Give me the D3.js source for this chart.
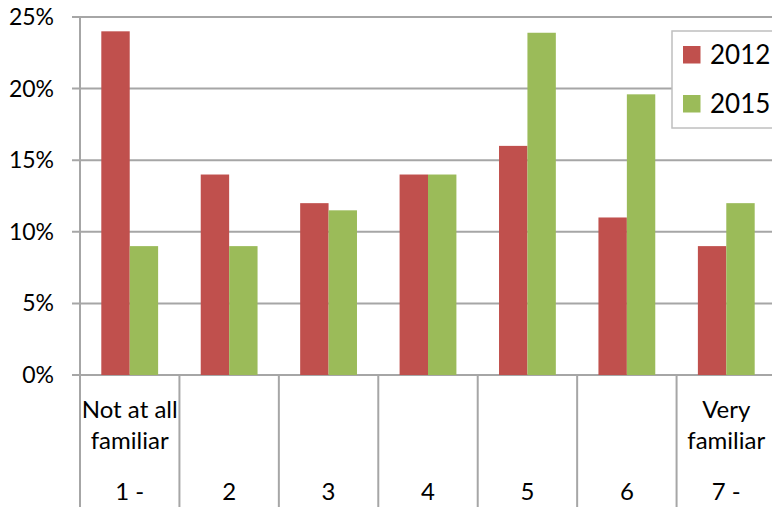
<!DOCTYPE html>
<html>
<head>
<meta charset="utf-8">
<script src="https://cdn.jsdelivr.net/npm/d3@7"></script>
<style>
  body { margin: 0; background: #fff; }
  svg { display: block; }
</style>
</head>
<body>
<div id="chart"></div>
<script>
// Data
var categories = ["1 -", "2", "3", "4", "5", "6", "7 -"];
var catNotes = [["Not at all", "familiar"], [], [], [], [], [], ["Very", "familiar"]];
var series = ["2012", "2015"];
var values2012 = [24, 14, 12, 14, 16, 11, 9];
var values2015 = [9, 9, 11.5, 14, 23.9, 19.6, 12];
var yTicks = [0, 5, 10, 15, 20, 25];

var W = 772, H = 507,
    font_family = "Lato, 'Open Sans', sans-serif",
    colors = {"2012": "#C0504D", "2015": "#9BBB59"},
    gridColor = "#a6a6a6";

var plot = {left: 80, top: 17, bottom: 375, right: 776};

var svg = d3.select("#chart").append("svg")
  .attr("width", W)
  .attr("height", H);

var x = d3.scaleBand()
  .domain(categories)
  .range([plot.left, plot.right])
  .paddingInner(0)
  .paddingOuter(0);

var xs = d3.scaleBand()
  .domain(series)
  .range([0, x.bandwidth()])
  .paddingInner(0)
  .paddingOuter(0.75);

var y = d3.scaleLinear()
  .domain([0, 25])
  .range([plot.bottom, plot.top]);

// Gridlines + tick marks
svg.append("g").selectAll("line")
  .data(yTicks)
  .enter().append("line")
    .attr("x1", plot.left - 8)
    .attr("x2", W)
    .attr("y1", function(d){ return y(d); })
    .attr("y2", function(d){ return y(d); })
    .attr("stroke", gridColor)
    .attr("stroke-width", 2);

// Y labels
svg.append("g").selectAll("text")
  .data(yTicks)
  .enter().append("text")
    .attr("x", 54)
    .attr("y", function(d){ return y(d) + 8; })
    .attr("text-anchor", "end")
    .attr("font-family", font_family)
    .attr("font-size", "23px")
    .attr("fill", "#000")
    .text(function(d){ return d + "%"; });

// Bars
var rows = categories.map(function(c, i){
  return {cat: c, vals: [{s: "2012", v: values2012[i]}, {s: "2015", v: values2015[i]}]};
});

var groups = svg.append("g").selectAll("g")
  .data(rows)
  .enter().append("g")
    .attr("transform", function(d){ return "translate(" + x(d.cat) + ",0)"; });

groups.selectAll("rect")
  .data(function(d){ return d.vals; })
  .enter().append("rect")
    .attr("x", function(d){ return xs(d.s); })
    .attr("y", function(d){ return y(d.v); })
    .attr("width", xs.bandwidth())
    .attr("height", function(d){ return plot.bottom - y(d.v); })
    .attr("fill", function(d){ return colors[d.s]; });

// Category separators (left axis included)
var seps = categories.map(function(c){ return x(c); }).concat([plot.right]);
svg.append("g").selectAll("line")
  .data(seps)
  .enter().append("line")
    .attr("x1", function(d){ return d; })
    .attr("x2", function(d){ return d; })
    .attr("y1", function(d, i){ return i == 0 ? plot.top : plot.bottom; })
    .attr("y2", H)
    .attr("stroke", gridColor)
    .attr("stroke-width", 2);

// Category labels
var catLabels = svg.append("g");
categories.forEach(function(c, i){
  var cx = x(c) + x.bandwidth()/2;
  catNotes[i].forEach(function(t, j){
    catLabels.append("text")
      .attr("x", cx)
      .attr("y", 418 + j*31)
      .attr("text-anchor", "middle")
      .attr("font-family", font_family)
      .attr("font-size", "24px")
      .text(t);
  });
  catLabels.append("text")
    .attr("x", cx)
    .attr("y", 500)
    .attr("text-anchor", "middle")
    .attr("font-family", font_family)
    .attr("font-size", "24px")
    .text(c);
});

// Legend
var legend = svg.append("g");
legend.append("rect")
  .attr("x", 672)
  .attr("y", 31)
  .attr("width", 120)
  .attr("height", 97)
  .attr("fill", "#fff")
  .attr("stroke", "#bfbfbf")
  .attr("stroke-width", 1.5);

var legendItems = legend.selectAll("g")
  .data(series)
  .enter().append("g")
    .attr("transform", function(d, i){ return "translate(683," + (46 + i*49) + ")"; });

legendItems.append("rect")
  .attr("width", 17.5)
  .attr("height", 17.5)
  .attr("fill", function(d){ return colors[d]; });

legendItems.append("text")
  .attr("x", 27)
  .attr("y", 17.5)
  .attr("font-family", font_family)
  .attr("font-size", "26px")
  .text(function(d){ return d; });
</script>
</body>
</html>
